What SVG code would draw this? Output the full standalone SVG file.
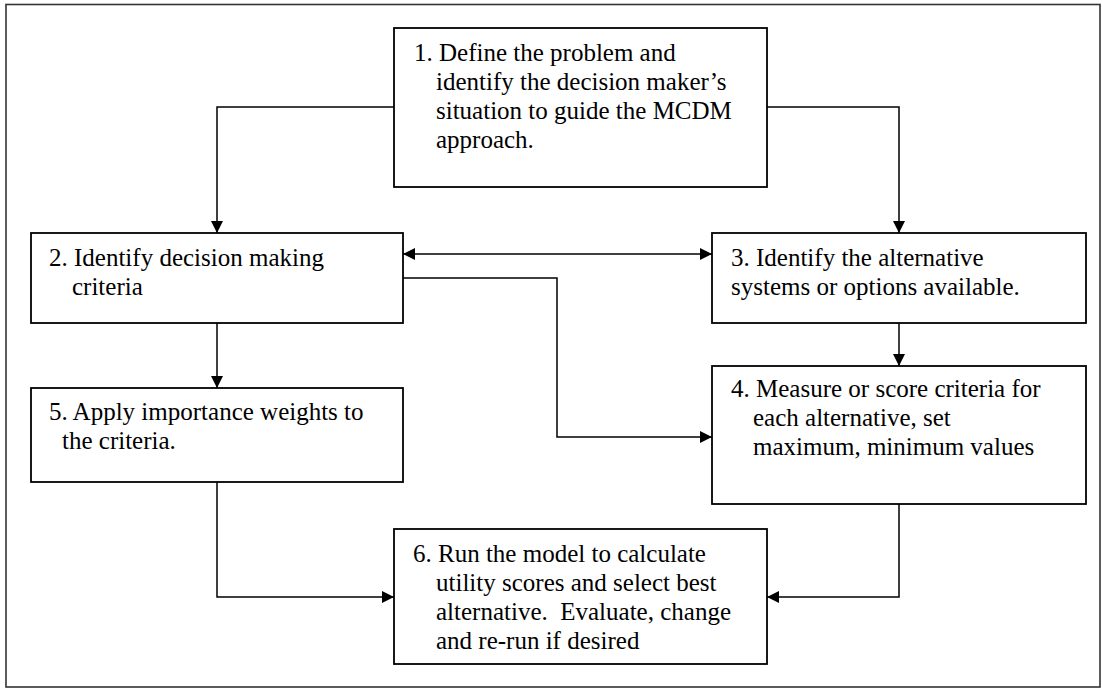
<svg xmlns="http://www.w3.org/2000/svg" width="1102" height="689" viewBox="0 0 1102 689">
<style>
.frame{fill:#fff;stroke:#333;stroke-width:1.6}
.box{fill:#fff;stroke:#000;stroke-width:1.8}
.conn{fill:none;stroke:#000;stroke-width:1.5}
.t{font-family:"Liberation Serif","Times New Roman",serif;font-size:25px;fill:#000}
</style>
<defs>
<marker id="arr" viewBox="0 0 12 12" refX="12" refY="6" markerWidth="12" markerHeight="12" markerUnits="userSpaceOnUse" orient="auto-start-reverse">
<path d="M0,0 L12,6 L0,12 z" fill="#000"/>
</marker>
</defs>
<rect class="frame" x="6" y="4.5" width="1094" height="682.5"/>
<g id="connectors">
<polyline class="conn" points="394,107 217,107 217,233" marker-end="url(#arr)"/>
<polyline class="conn" points="767,107 899,107 899,233" marker-end="url(#arr)"/>
<line class="conn" x1="403" y1="254" x2="712" y2="254" marker-start="url(#arr)" marker-end="url(#arr)"/>
<polyline class="conn" points="403,278 557,278 557,437 712,437" marker-end="url(#arr)"/>
<line class="conn" x1="217" y1="323" x2="217" y2="388" marker-end="url(#arr)"/>
<line class="conn" x1="899" y1="323" x2="899" y2="366" marker-end="url(#arr)"/>
<polyline class="conn" points="217,482 217,597 394,597" marker-end="url(#arr)"/>
<polyline class="conn" points="899,504 899,597 767,597" marker-end="url(#arr)"/>
</g>
<g id="node1">
<rect class="box" x="394" y="28" width="373" height="159"/>
<text class="t" x="414" y="61">1. Define the problem and</text>
<text class="t" x="436" y="90">identify the decision maker’s</text>
<text class="t" x="436" y="119">situation to guide the MCDM</text>
<text class="t" x="436" y="148">approach.</text>
</g>
<g id="node2">
<rect class="box" x="31" y="233" width="372" height="90"/>
<text class="t" x="49" y="266">2. Identify decision making</text>
<text class="t" x="72" y="295">criteria</text>
</g>
<g id="node3">
<rect class="box" x="712" y="233" width="374" height="90"/>
<text class="t" x="731" y="266">3. Identify the alternative</text>
<text class="t" x="731" y="295">systems or options available.</text>
</g>
<g id="node4">
<rect class="box" x="712" y="366" width="374" height="138"/>
<text class="t" x="731" y="397">4. Measure or score criteria for</text>
<text class="t" x="753" y="426">each alternative, set</text>
<text class="t" x="753" y="455">maximum, minimum values</text>
</g>
<g id="node5">
<rect class="box" x="31" y="388" width="372" height="94"/>
<text class="t" x="49" y="420">5. Apply importance weights to</text>
<text class="t" x="62" y="449">the criteria.</text>
</g>
<g id="node6">
<rect class="box" x="394" y="529" width="373" height="135"/>
<text class="t" x="413" y="562">6. Run the model to calculate</text>
<text class="t" x="436" y="591">utility scores and select best</text>
<text class="t" x="436" y="620">alternative.&#160; Evaluate, change</text>
<text class="t" x="436" y="649">and re-run if desired</text>
</g>
</svg>
